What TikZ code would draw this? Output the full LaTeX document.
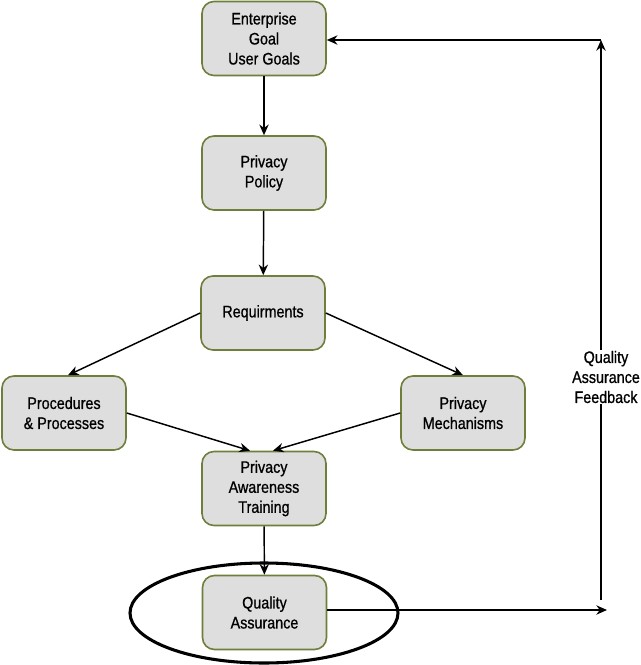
\documentclass[tikz,border=0pt]{standalone}
\usepackage{fontspec}
\setmainfont[FakeStretch=0.86,FakeBold=0.8]{Liberation Sans}
\usetikzlibrary{arrows.meta,shapes.geometric,calc}
\definecolor{boxfill}{HTML}{DEDEDE}
\definecolor{boxline}{HTML}{6E7F3C}
\begin{document}
\begin{tikzpicture}[x=0.75pt,y=-0.75pt,
  stepbox/.style={draw=boxline,fill=boxfill,line width=1.2pt,rounded corners=9pt,
    minimum width=93pt,minimum height=55.5pt,align=center,inner sep=2pt,
    font=\fontsize{12.5}{15}\selectfont},
  arr/.style={line width=1.1pt,-{Stealth[length=8pt,width=7pt]}},
  lbl/.style={align=center,font=\fontsize{12.5}{15}\selectfont,fill=white,inner sep=1pt}]
\useasboundingbox (0,0) rectangle (640,665);
\node[ellipse,draw,line width=2.3pt,minimum width=201pt,minimum height=75pt] (ell) at (264,613) {};
\node[stepbox] (ent) at (264,38.5) {Enterprise\\Goal\\User Goals};
\node[stepbox] (pol) at (264,173) {Privacy\\Policy};
\node[stepbox] (req) at (263,313) {Requirments};
\node[stepbox] (proc) at (64,413) {Procedures\\\& Processes};
\node[stepbox] (mech) at (463,413) {Privacy\\Mechanisms};
\node[stepbox] (pat) at (264,488.5) {Privacy\\Awareness\\Training};
\node[stepbox] (qa) at (264.5,612.5) {Quality\\Assurance};
\coordinate (qaEnd) at (607,610);
\coordinate (fbBot) at (601,600);
\coordinate (fbTop) at (601,40);
\draw[arr] (ent) -- (pol);
\draw[arr] (pol) -- (req);
\draw[arr] (req.west) -- ($(proc.north)+(4,0)$);
\draw[arr] (req.east) -- (mech.north);
\draw[arr] (proc.east) -- ($(pat.north)+(-14,0)$);
\draw[arr] (mech.west) -- ($(pat.north)+(9,0)$);
\draw[arr] (pat) -- (qa);
\draw[arr] (qa.east |- qaEnd) -- (qaEnd);
\draw[arr] (fbBot) -- (fbTop);
\node[lbl] (fb) at (606,377) {Quality\\Assurance\\Feedback};
\draw[arr] (fbTop) -- (ent.east |- fbTop);
\end{tikzpicture}
\end{document}
